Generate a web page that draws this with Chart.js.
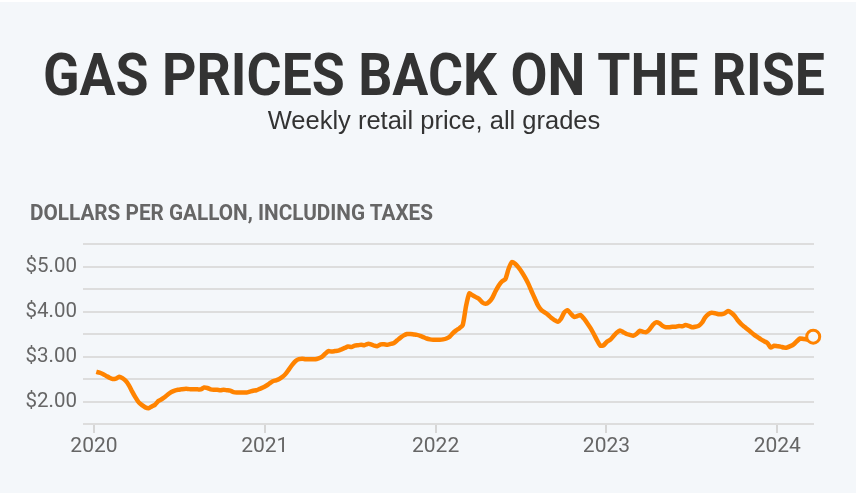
<!DOCTYPE html>
<html>
<head>
<meta charset="utf-8">
<script src="https://cdn.jsdelivr.net/npm/chart.js@4.4.1/dist/chart.umd.min.js"></script>
<style>
  html, body { margin: 0; padding: 0; background: #f4f7fa; }
  #wrap { position: relative; width: 856px; height: 493px; overflow: hidden; border-top: 2px solid #fff; box-sizing: border-box; }
  #chart { position: absolute; left: 0; top: -2px; }
  .txt { position: absolute; white-space: nowrap; line-height: 1; transform-origin: 0 0; }
  #title { left: 43px; top: 37px; font: 700 60px Roboto, sans-serif; color: #333; }
  #subtitle { left: 0; width: 868px; top: 104px; text-align: center; font: 25.5px 'Liberation Sans', sans-serif; color: #333; }
  #unit { left: 30px; top: 197px; font: 700 22.5px Roboto, sans-serif; color: #666; }
</style>
</head>
<body>
<div id="wrap">
  <canvas id="chart" width="856" height="493"></canvas>
  <div class="txt" id="title">GAS PRICES BACK ON THE RISE</div>
  <div class="txt" id="subtitle">Weekly retail price, all grades</div>
  <div class="txt" id="unit">DOLLARS PER GALLON, INCLUDING TAXES</div>
</div>
<script>
// weekly prices, first week = Monday 2020-01-06
const firstWeek = [2020, 0, 6];

const prices2020 = [2.66, 2.64, 2.61, 2.57, 2.53, 2.50, 2.51, 2.55, 2.52, 2.46,
    2.36, 2.22, 2.09, 1.98, 1.92, 1.87, 1.85, 1.89, 1.93, 2.01,
    2.05, 2.10, 2.16, 2.21, 2.24, 2.26, 2.27, 2.28, 2.28, 2.27,
    2.27, 2.27, 2.27, 2.31, 2.30, 2.27, 2.26, 2.26, 2.25, 2.26,
    2.25, 2.24, 2.21, 2.20, 2.20, 2.20, 2.20, 2.22, 2.24, 2.25,
    2.28, 2.31];
const prices2021 = [2.35, 2.40, 2.45, 2.47, 2.50, 2.55, 2.62, 2.72, 2.82, 2.90,
    2.94, 2.95, 2.94, 2.94, 2.94, 2.94, 2.96, 2.99, 3.06, 3.12,
    3.11, 3.12, 3.13, 3.16, 3.19, 3.22, 3.21, 3.24, 3.25, 3.26,
    3.25, 3.28, 3.27, 3.24, 3.23, 3.27, 3.27, 3.26, 3.28, 3.30,
    3.36, 3.42, 3.47, 3.50, 3.50, 3.49, 3.48, 3.46, 3.43, 3.40,
    3.38, 3.37];
const prices2022 = [3.37, 3.37, 3.38, 3.40, 3.44, 3.52, 3.58, 3.63, 3.70, 4.12,
    4.40, 4.36, 4.32, 4.28, 4.20, 4.17, 4.21, 4.30, 4.45, 4.58,
    4.67, 4.72, 4.95, 5.10, 5.06, 4.98, 4.88, 4.76, 4.62, 4.45,
    4.29, 4.13, 4.03, 3.98, 3.93, 3.86, 3.81, 3.77, 3.84, 3.98,
    4.03, 3.95, 3.88, 3.90, 3.92, 3.84, 3.74, 3.63, 3.50, 3.36,
    3.24, 3.25];
const prices2023 = [3.33, 3.37, 3.45, 3.53, 3.58, 3.54, 3.50, 3.48, 3.46, 3.50,
    3.57, 3.55, 3.54, 3.60, 3.70, 3.76, 3.74, 3.68, 3.65, 3.65,
    3.66, 3.66, 3.68, 3.67, 3.70, 3.68, 3.65, 3.66, 3.68, 3.75,
    3.87, 3.94, 3.97, 3.96, 3.94, 3.94, 3.96, 4.01, 3.97, 3.90,
    3.80, 3.72, 3.66, 3.60, 3.54, 3.48, 3.43, 3.38, 3.34, 3.30,
    3.20, 3.24];
const prices2024 = [3.23, 3.22, 3.20, 3.20, 3.23, 3.27, 3.34, 3.40, 3.39, 3.38,
    3.38, 3.44];

const yearTicks = [2020, 2021, 2022, 2023, 2024];
const dollarTicks = [2, 3, 4, 5];

const prices = [...prices2020, ...prices2021, ...prices2022, ...prices2023, ...prices2024];

// date -> fractional year for the linear x axis
function yearFraction(i) {
    const t = Date.UTC(firstWeek[0], firstWeek[1], firstWeek[2] + 7 * i);
    const yr = new Date(t).getUTCFullYear();
    const y0 = Date.UTC(yr, 0, 1);
    const y1 = Date.UTC(yr + 1, 0, 1);
    return yr + (t - y0) / (y1 - y0);
}

const points = prices.map((p, i) => ({ x: yearFraction(i), y: p }));
const last = points.length - 1;

const BG = '#f4f7fa';
const ORANGE = '#ff8300';
const axisFont = 'Roboto, sans-serif';

// squeeze the headline texts to the condensed widths of the original
function fitWidth(id, target) {
    const el = document.getElementById(id);
    const w = el.getBoundingClientRect().width;
    el.style.transform = 'scaleX(' + (target / w) + ')';
}
fitWidth('title', 782);
fitWidth('unit', 403);

new Chart(document.getElementById('chart'), {
    type: 'line',
    data: {
        datasets: [{
            data: points,
            borderColor: ORANGE,
            borderWidth: 4.5,
            tension: 0.2,
            clip: false,
            pointRadius: ctx => ctx.dataIndex === last ? 6.5 : 0,
            pointBorderWidth: 3,
            pointBorderColor: ORANGE,
            pointBackgroundColor: BG
        }]
    },
    options: {
        responsive: false,
        animation: false,
        layout: { padding: { top: 244, right: 42, left: 0, bottom: 0 } },
        plugins: {
            legend: { display: false },
            tooltip: { enabled: false }
        },
        scales: {
            x: {
                type: 'linear',
                min: 2019.936,
                max: 2024.215,
                afterBuildTicks: scale => {
                    scale.ticks = yearTicks.map(v => ({ value: v }));
                },
                afterFit: scale => { scale.height = 69; },
                border: { display: false },
                grid: {
                    drawOnChartArea: false,
                    drawTicks: true,
                    tickLength: 9,
                    color: '#d6d6d6',
                    lineWidth: 2
                },
                ticks: {
                    padding: 1,
                    color: '#666',
                    autoSkip: false,
                    maxRotation: 0,
                    font: { family: axisFont, size: 21 },
                    callback: v => String(v)
                }
            },
            y: {
                min: 1.5,
                max: 5.5,
                afterFit: scale => { scale.width = 83; },
                border: { display: false },
                grid: {
                    color: '#dddddd',
                    lineWidth: 2,
                    drawTicks: false
                },
                ticks: {
                    stepSize: 0.5,
                    autoSkip: false,
                    padding: 6,
                    color: '#666',
                    font: { family: axisFont, size: 20.5 },
                    callback: v => dollarTicks.includes(v) ? '$' + v.toFixed(2) : ''
                }
            }
        }
    }
});
</script>
</body>
</html>
